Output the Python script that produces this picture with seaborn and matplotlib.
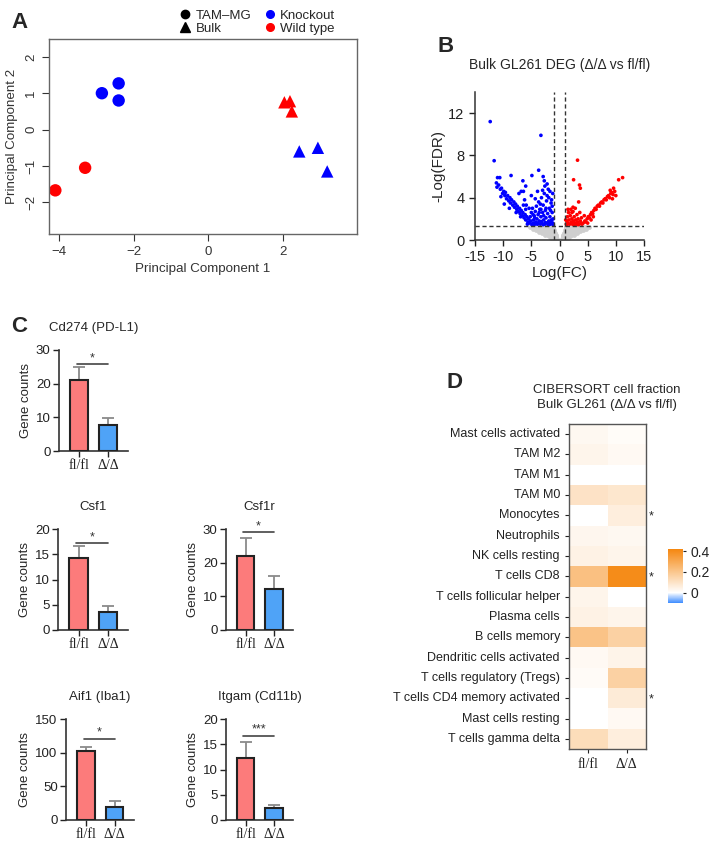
import numpy as np
import pandas as pd
import seaborn as sns
import matplotlib.pyplot as plt
from matplotlib.lines import Line2D
from matplotlib.colors import LinearSegmentedColormap

sns.set_theme(style="ticks")
plt.rcParams['font.family'] = ['Liberation Sans', 'DejaVu Sans']

W, H = 709, 843


def box(x0, y0, x1, y1):
    # pixel box (origin top-left) -> figure fraction rect
    return [x0 / W, 1 - y1 / H, (x1 - x0) / W, (y1 - y0) / H]


# ---------------- data ----------------
# A: PCA
pc1 = [-2.85, -2.4, -2.4, -3.3, -4.1, 2.05, 2.2, 2.25, 2.45, 2.95, 3.2]
pc2 = [1.0, 1.27, 0.8, -1.05, -1.67, 0.75, 0.78, 0.5, -0.6, -0.5, -1.15]
sample_type = ['TAM–MG'] * 5 + ['Bulk'] * 6
genotype = ['Knockout'] * 3 + ['Wild type'] * 5 + ['Knockout'] * 3

# B: volcano (log FC, -log FDR)
blue_pts = [
    (-12.3, 11.2), (-3.3, 9.9), (-11.6, 7.5), (-3.7, 6.6), (-8.6, 6.1), (-4.9, 6.1),
    (-11.0, 5.9), (-10.6, 5.9), (-2.9, 6.0), (-2.7, 5.6), (-6.5, 5.6), (-2.2, 5.3),
    (-6.0, 5.1), (-6.4, 4.6), (-11.2, 5.4), (-10.8, 5.2), (-11.1, 5.0), (-10.5, 4.8),
    (-10.3, 4.9), (-10.1, 4.4), (-9.9, 4.6), (-9.7, 4.2), (-9.6, 4.5), (-9.4, 3.9),
    (-9.2, 4.2), (-9.0, 3.7), (-8.8, 4.0), (-8.7, 3.5), (-8.5, 3.8), (-8.3, 3.3),
    (-8.1, 3.6), (-8.0, 3.1), (-7.8, 3.4), (-7.6, 2.9), (-7.5, 3.2), (-7.3, 2.7),
    (-7.1, 3.0), (-7.0, 2.5), (-6.8, 2.8), (-6.6, 2.3), (-6.5, 2.6), (-6.3, 2.1),
    (-6.1, 2.4), (-6.0, 1.9), (-5.8, 2.2), (-5.6, 1.7), (-5.5, 2.0), (-5.3, 1.6),
    (-5.1, 1.8), (-9.8, 3.4), (-8.9, 3.0), (-7.2, 4.4), (-6.2, 3.8), (-5.9, 3.3),
    (-5.0, 4.2), (-6.8, 4.6), (-10.4, 4.1), (-7.7, 2.6), (-6.9, 2.2), (-5.7, 1.5),
    (-4.9, 1.45), (-4.7, 1.6), (-4.6, 1.9), (-4.5, 2.3), (-4.4, 1.5), (-4.3, 2.7),
    (-4.2, 1.7), (-4.1, 3.2), (-4.0, 2.0), (-3.9, 1.5), (-3.8, 2.4), (-3.7, 3.6),
    (-3.6, 1.8), (-3.5, 2.9), (-3.4, 1.5), (-3.3, 2.2), (-3.2, 4.0), (-3.1, 1.6),
    (-3.0, 2.6), (-2.9, 3.3), (-2.8, 1.9), (-2.7, 4.4), (-2.6, 1.5), (-2.5, 2.8),
    (-2.4, 2.1), (-2.3, 3.7), (-2.2, 1.6), (-2.1, 2.5), (-2.0, 4.8), (-1.9, 1.8),
    (-1.8, 3.0), (-1.7, 2.2), (-1.6, 1.5), (-1.5, 3.5), (-1.4, 1.9), (-1.3, 2.6),
    (-1.2, 1.6), (-1.1, 2.0), (-4.8, 3.0), (-4.3, 3.9), (-3.9, 4.6), (-3.4, 3.4),
    (-3.0, 4.7), (-2.6, 5.1), (-2.2, 4.2), (-1.9, 4.0), (-1.6, 2.8), (-1.3, 3.2),
    (-1.2, 4.4), (-2.8, 2.3), (-3.6, 2.6), (-4.4, 2.1), (-1.5, 1.7), (-2.0, 1.4),
    (-2.9, 1.45), (-3.8, 1.6), (-4.6, 1.4), (-1.1, 1.45), (-1.8, 1.55), (-2.5, 1.65),
    (-3.2, 1.75), (-4.0, 1.55), (-5.0, 2.6), (-5.4, 3.0), (-6.0, 2.9), (-6.4, 3.3),
    (-1.4, 3.8), (-1.7, 4.6), (-2.4, 3.0), (-3.3, 2.9), (-4.7, 2.4), (-5.2, 2.2),
]
red_pts = [
    (1.2, 1.5), (1.3, 1.8), (1.4, 2.2), (1.5, 1.6), (1.6, 2.6), (1.7, 1.9),
    (1.8, 1.5), (1.9, 2.3), (2.0, 2.9), (2.1, 1.7), (2.2, 2.0), (2.3, 1.5),
    (2.4, 2.7), (2.5, 1.8), (2.6, 2.2), (2.7, 1.6), (2.8, 3.0), (2.9, 1.9),
    (3.0, 1.5), (3.1, 2.4), (3.2, 1.7), (3.3, 2.0), (3.4, 3.6), (3.5, 1.5),
    (3.6, 2.6), (3.7, 1.8), (3.8, 1.6), (3.9, 2.1), (4.0, 1.5), (1.5, 2.9),
    (2.2, 2.6), (1.1, 1.9), (2.5, 5.7), (3.55, 5.2), (3.7, 4.9), (3.2, 7.55),
    (2.4, 3.1), (4.2, 1.6), (4.5, 1.8), (4.7, 1.7), (4.9, 2.0), (5.1, 2.2),
    (5.3, 2.1), (5.5, 2.4), (5.7, 2.6), (5.9, 2.5), (6.1, 2.8), (6.3, 3.0),
    (6.5, 2.9), (6.7, 3.2), (6.9, 3.3), (7.1, 3.2), (7.3, 3.5), (7.5, 3.6),
    (7.7, 3.5), (7.9, 3.8), (8.1, 3.9), (8.3, 3.8), (8.5, 4.1), (8.7, 4.2),
    (8.9, 4.0), (9.1, 4.4), (9.3, 4.5), (9.5, 4.3), (9.6, 4.9), (9.8, 4.6),
    (10.0, 4.2), (10.5, 5.7), (11.2, 5.9), (9.0, 4.7), (9.4, 3.9), (5.0, 1.6),
    (6.0, 2.2), (4.4, 2.3), (5.6, 1.9), (1.3, 1.4), (2.6, 1.4), (3.3, 1.45),
]
gray_pts = [
    (-5.2, 1.22), (-4.75, 1.2), (-4.3, 1.24), (-3.85, 1.21), (-3.4, 1.25), (-2.95, 1.2),
    (-2.5, 1.23), (-2.05, 1.21), (-1.6, 1.24), (-1.15, 1.2),
    (-4.7, 1.08), (-4.25, 1.1), (-3.8, 1.06), (-3.35, 1.09), (-2.9, 1.07), (-2.45, 1.1),
    (-2.0, 1.06), (-1.55, 1.08), (-1.1, 1.05),
    (-4.15, 0.95), (-3.7, 0.93), (-3.25, 0.96), (-2.8, 0.94), (-2.35, 0.97), (-1.9, 0.93),
    (-1.45, 0.95), (-1.0, 0.92),
    (-3.6, 0.8), (-3.15, 0.82), (-2.7, 0.79), (-2.25, 0.81), (-1.8, 0.78), (-1.35, 0.8),
    (-0.9, 0.77),
    (-3.05, 0.65), (-2.6, 0.67), (-2.15, 0.64), (-1.7, 0.66), (-1.25, 0.63), (-0.8, 0.65),
    (-2.5, 0.5), (-2.05, 0.52), (-1.6, 0.49), (-1.15, 0.51), (-0.7, 0.5),
    (-1.95, 0.36), (-1.5, 0.37), (-1.05, 0.35), (-0.6, 0.36),
    (-1.5, 0.23), (-1.05, 0.22), (-0.55, 0.24),
    (-1.0, 0.1), (-0.5, 0.11),
    (5.2, 1.21), (4.75, 1.23), (4.3, 1.2), (3.85, 1.24), (3.4, 1.22), (2.95, 1.25),
    (2.5, 1.2), (2.05, 1.23), (1.6, 1.21), (1.15, 1.24),
    (4.7, 1.07), (4.25, 1.09), (3.8, 1.1), (3.35, 1.06), (2.9, 1.08), (2.45, 1.05),
    (2.0, 1.09), (1.55, 1.07), (1.1, 1.1),
    (4.15, 0.94), (3.7, 0.96), (3.25, 0.93), (2.8, 0.95), (2.35, 0.92), (1.9, 0.96),
    (1.45, 0.94), (1.0, 0.93),
    (3.6, 0.81), (3.15, 0.79), (2.7, 0.82), (2.25, 0.8), (1.8, 0.78), (1.35, 0.81),
    (0.9, 0.79),
    (3.05, 0.66), (2.6, 0.64), (2.15, 0.67), (1.7, 0.65), (1.25, 0.63), (0.8, 0.66),
    (2.5, 0.51), (2.05, 0.5), (1.6, 0.52), (1.15, 0.49), (0.7, 0.51),
    (1.95, 0.37), (1.5, 0.35), (1.05, 0.38), (0.6, 0.36),
    (1.5, 0.22), (1.05, 0.24), (0.55, 0.23),
    (1.0, 0.11), (0.5, 0.1),
]
volcano_xticks = [-15, -10, -5, 0, 5, 10, 15]

# C: gene counts (mean, upper error)
genes = ['Cd274 (PD-L1)', 'Csf1', 'Csf1r', 'Aif1 (Iba1)', 'Itgam (Cd11b)']
groups = ['fl/fl', 'Δ/Δ']
fl_mean = [21.0, 14.2, 22.0, 103.0, 12.3]
fl_err = [4.0, 2.5, 5.2, 5.0, 3.2]
ko_mean = [7.6, 3.5, 12.2, 20.0, 2.3]
ko_err = [2.1, 1.2, 3.8, 8.0, 0.7]
sig_label = ['*', '*', '*', '*', '***']
sig_height = [25.8, 17.2, 29.0, 121.0, 16.7]
y_max = [30, 20, 30, 150, 20]
y_step = [10, 5, 10, 50, 5]

# D: CIBERSORT fractions
cell_types = ['Mast cells activated', 'TAM M2', 'TAM M1', 'TAM M0', 'Monocytes',
              'Neutrophils', 'NK cells resting', 'T cells CD8', 'T cells follicular helper',
              'Plasma cells', 'B cells memory', 'Dendritic cells activated',
              'T cells regulatory (Tregs)', 'T cells CD4 memory activated',
              'Mast cells resting', 'T cells gamma delta']
frac_fl = [0.025, 0.035, 0.0, 0.10, 0.0, 0.03, 0.045, 0.22, 0.035, 0.045,
           0.21, 0.02, 0.015, 0.0, 0.0, 0.12]
frac_ko = [0.012, 0.02, 0.0, 0.085, 0.06, 0.025, 0.035, 0.40, 0.0, 0.035,
           0.16, 0.04, 0.16, 0.07, 0.02, 0.06]
sig_rows = ['Monocytes', 'T cells CD8', 'T cells CD4 memory activated']

fig = plt.figure(figsize=(W / 100, H / 100), dpi=100)

# panel letters
for letter, (px, py) in zip('ABCD', [(19, 22), (446, 46), (19, 327), (455, 383)]):
    fig.text(px / W, 1 - py / H, letter, fontsize=16, weight='bold', ha='center', va='center')

# ---------------- A ----------------
axA = fig.add_axes(box(49, 39, 357, 234))
sns.scatterplot(x=pc1, y=pc2, hue=genotype, style=sample_type,
                markers={'TAM–MG': 'o', 'Bulk': '^'},
                palette={'Knockout': '#0000ff', 'Wild type': '#ff0000'},
                s=80, linewidth=0, legend=False, ax=axA)
axA.set_xlim(-4.27, 4.0)
axA.set_ylim(-2.87, 2.49)
axA.set_xticks([-4, -2, 0, 2])
axA.set_yticks([-2, -1, 0, 1, 2])
for sp in axA.spines.values():
    sp.set_color('#666666')
    sp.set_linewidth(1)
axA.tick_params(colors='#333333', labelsize=9.5, length=5, width=0.8)
plt.setp(axA.get_yticklabels(), rotation=90, va='center')
axA.set_xlabel('Principal Component 1', fontsize=9.6, color='#333333')
axA.set_ylabel('Principal Component 2', fontsize=9.6, color='#333333', labelpad=5)
handles = [Line2D([], [], marker='o', color='black', ls='', markersize=6),
           Line2D([], [], marker='^', color='black', ls='', markersize=6.5),
           Line2D([], [], marker='o', color='#0000ff', ls='', markersize=5.5),
           Line2D([], [], marker='o', color='#ff0000', ls='', markersize=5.5)]
axA.legend(handles, ['TAM–MG', 'Bulk', 'Knockout', 'Wild type'], ncol=2,
           loc='lower right', bbox_to_anchor=(0.93, 1.02), frameon=False,
           fontsize=9.5, handletextpad=0.3, columnspacing=0.9, labelspacing=0.1,
           handlelength=1.0, borderaxespad=0, borderpad=0)

# ---------------- B ----------------
axB = fig.add_axes(box(475, 92, 644, 240))
df_v = pd.DataFrame(gray_pts + blue_pts + red_pts, columns=['fc', 'fdr'])
df_v['grp'] = ['ns'] * len(gray_pts) + ['down'] * len(blue_pts) + ['up'] * len(red_pts)
sns.scatterplot(data=df_v[df_v.grp == 'ns'], x='fc', y='fdr', color='#cfcfcf',
                s=12, linewidth=0, legend=False, ax=axB)
sns.scatterplot(data=df_v[df_v.grp != 'ns'], x='fc', y='fdr', hue='grp',
                palette={'down': '#0000ff', 'up': '#ff0000'},
                s=7, linewidth=0, legend=False, ax=axB)
for xv in [-1, 1]:
    axB.axvline(xv, ls='--', color='#333333', lw=1, dashes=(3, 2))
axB.axhline(1.3, ls='--', color='#333333', lw=1, dashes=(3, 2))
axB.set_xlim(-15, 15)
axB.set_ylim(0, 14)
axB.set_xticks(volcano_xticks)
axB.set_xticklabels([str(v) for v in volcano_xticks])
axB.set_yticks([0, 4, 8, 12])
sns.despine(ax=axB)
for sp in ['left', 'bottom']:
    axB.spines[sp].set_color('#333333')
    axB.spines[sp].set_linewidth(1.1)
axB.tick_params(labelsize=10.5, length=4, width=1, colors='#222222')
axB.set_xlabel('Log(FC)', fontsize=11, labelpad=1)
axB.set_ylabel('-Log(FDR)', fontsize=11, labelpad=2)
axB.text(0.5, 1.18, 'Bulk GL261 DEG (Δ/Δ vs fl/fl)', transform=axB.transAxes,
         ha='center', va='center', fontsize=10)

# ---------------- C ----------------
bar_boxes = [(59, 350, 128, 451), (58, 529, 128, 630), (226, 529, 293, 630),
             (66, 719, 134, 820), (226, 719, 293, 820)]
bar_colors = {'fl/fl': '#fc7b7b', 'Δ/Δ': '#4fa3f7'}
for i, gene in enumerate(genes):
    ax = fig.add_axes(box(*bar_boxes[i]))
    d = pd.DataFrame({'group': groups, 'count': [fl_mean[i], ko_mean[i]]})
    sns.barplot(data=d, x='group', y='count', hue='group', palette=bar_colors,
                saturation=1, width=0.62, edgecolor='#222222', linewidth=1.5,
                errorbar=None, legend=False, ax=ax, zorder=3)
    ax.errorbar([0, 1], [fl_mean[i], ko_mean[i]], yerr=[[0, 0], [fl_err[i], ko_err[i]]],
                fmt='none', ecolor='#8a8a8a', elinewidth=1.3, capsize=4, capthick=1.3, zorder=2)
    ax.plot([-0.08, 1.0], [sig_height[i]] * 2, color='#444444', lw=1.2)
    ax.text(0.46, sig_height[i], sig_label[i], ha='center', va='bottom', fontsize=9,
            color='#333333')
    ax.set_xlim(-0.7, 1.68)
    ax.set_ylim(0, y_max[i])
    ax.set_yticks(np.arange(0, y_max[i] + 1, y_step[i]))
    sns.despine(ax=ax)
    for sp in ['left', 'bottom']:
        ax.spines[sp].set_color('#333333')
        ax.spines[sp].set_linewidth(1.2)
    ax.tick_params(labelsize=9.5, length=4, width=1, colors='#222222', pad=2)
    for t in ax.get_xticklabels():
        t.set_fontfamily('Liberation Serif')
        t.set_fontsize(10)
    ax.set_xlabel('')
    ax.set_ylabel('Gene counts', fontsize=9.5, labelpad=3)
    ax.text(0.5, 1.22, gene, transform=ax.transAxes, ha='center', va='center', fontsize=9.5)

# ---------------- D ----------------
frac = pd.DataFrame({'fl/fl': frac_fl, 'Δ/Δ': frac_ko}, index=cell_types)
cmap = LinearSegmentedColormap.from_list(
    'bwo', [(0, '#3d8cff'), (0.1 / 0.52, '#ffffff'), (1, '#f5870f')])
axD = fig.add_axes(box(569, 424, 646, 749))
cax = fig.add_axes(box(668, 549, 683, 603))
sns.heatmap(frac, cmap=cmap, vmin=-0.1, vmax=0.42, ax=axD, cbar_ax=cax,
            cbar_kws={'ticks': [0, 0.2, 0.4]})
for sp in axD.spines.values():
    sp.set_visible(True)
    sp.set_color('#555555')
    sp.set_linewidth(1)
axD.tick_params(left=True, bottom=True, length=3, width=0.8, colors='#222222', labelsize=9)
axD.set_yticklabels(cell_types, rotation=0)
for t in axD.get_xticklabels():
    t.set_fontfamily('Liberation Serif')
    t.set_fontsize(10)
for r in sig_rows:
    axD.text(2.06, cell_types.index(r) + 0.55, '*', ha='left', va='center', fontsize=9,
             clip_on=False)
cbar = axD.collections[0].colorbar
cbar.set_ticklabels(['0', '0.2', '0.4'])
cbar.outline.set_edgecolor('#555555')
cax.tick_params(labelsize=10, length=2, width=0.8, colors='#222222')
fig.text(607 / W, 1 - 390 / H, 'CIBERSORT cell fraction', ha='center', va='center', fontsize=9.5)
fig.text(607 / W, 1 - 405 / H, 'Bulk GL261 (Δ/Δ vs fl/fl)', ha='center', va='center', fontsize=9.5)

fig.savefig('out.png', dpi=100)
